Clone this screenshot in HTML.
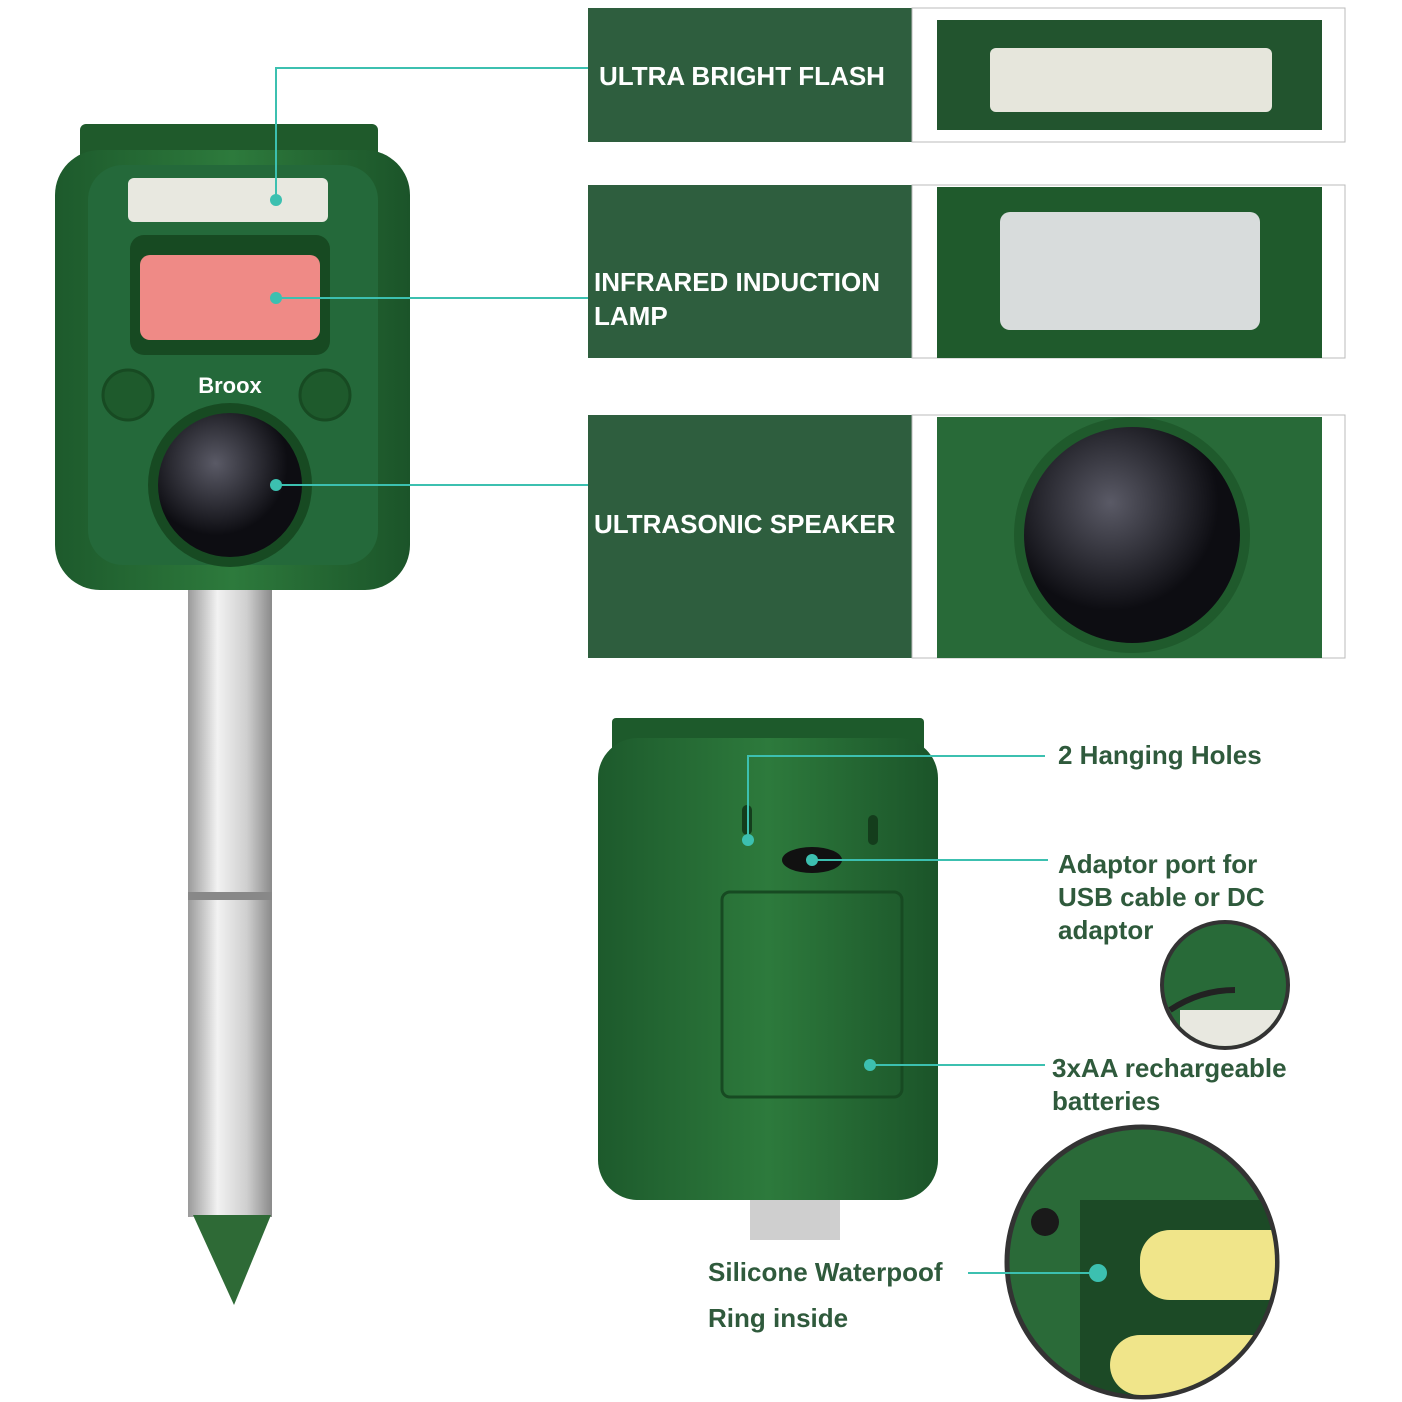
<!DOCTYPE html>
<html><head><meta charset="utf-8"><style>
body{margin:0;background:#fff;}
.wrap{position:relative;width:1402px;height:1402px;overflow:hidden;font-family:"Liberation Sans",sans-serif;}
.t{position:absolute;color:#fff;font-weight:bold;font-size:26px;letter-spacing:0;line-height:34px}
.g{position:absolute;color:#2f5a3c;font-weight:bold;font-size:26px;line-height:33px}
</style></head><body><div class="wrap">
<svg width="1402" height="1402" style="position:absolute;left:0;top:0">
<defs>
<linearGradient id="pole" x1="0" x2="1"><stop offset="0" stop-color="#9a9a9a"/><stop offset="0.35" stop-color="#f2f2f2"/><stop offset="0.7" stop-color="#cfcfcf"/><stop offset="1" stop-color="#8a8a8a"/></linearGradient>
<radialGradient id="spk" cx="0.4" cy="0.35"><stop offset="0" stop-color="#5a5a66"/><stop offset="1" stop-color="#0d0d12"/></radialGradient>
<linearGradient id="grn" x1="0" x2="1"><stop offset="0" stop-color="#1d5a2c"/><stop offset="0.5" stop-color="#2d7a3c"/><stop offset="1" stop-color="#1b5429"/></linearGradient>
<clipPath id="c1"><circle cx="1142" cy="1262" r="133"/></clipPath>
<clipPath id="c2"><circle cx="1225" cy="985" r="61"/></clipPath>
</defs>
<rect x="188" y="585" width="84" height="632" fill="url(#pole)"/>
<rect x="188" y="892" width="84" height="8" fill="#888"/>
<polygon points="193,1215 271,1215 234,1305" fill="#2e6a36"/>
<rect x="80" y="124" width="298" height="45" rx="6" fill="#1f5a2b"/>
<rect x="55" y="150" width="355" height="440" rx="45" fill="url(#grn)"/>
<rect x="88" y="165" width="290" height="400" rx="35" fill="#24693a"/>
<rect x="128" y="178" width="200" height="44" rx="6" fill="#e8e8e0"/>
<rect x="130" y="235" width="200" height="120" rx="14" fill="#174a22"/>
<rect x="140" y="255" width="180" height="85" rx="10" fill="#ef8a86"/>
<circle cx="128" cy="395" r="25" fill="#1e5a2c" stroke="#174a22" stroke-width="3"/>
<circle cx="325" cy="395" r="25" fill="#1e5a2c" stroke="#174a22" stroke-width="3"/>
<text x="230" y="393" text-anchor="middle" font-family="Liberation Sans" font-weight="bold" font-size="22" fill="#fff">Broox</text>
<circle cx="230" cy="485" r="82" fill="#174a22"/>
<circle cx="230" cy="485" r="72" fill="url(#spk)"/>
<rect x="588" y="8" width="324" height="134" fill="#2e5e3e"/>
<rect x="912" y="8" width="433" height="134" fill="#fff" stroke="#bbb"/>
<rect x="937" y="20" width="385" height="110" fill="#22542e"/>
<rect x="990" y="48" width="282" height="64" rx="6" fill="#e6e6dc"/>
<rect x="588" y="185" width="324" height="173" fill="#2e5e3e"/>
<rect x="912" y="185" width="433" height="173" fill="#fff" stroke="#bbb"/>
<rect x="937" y="187" width="385" height="171" fill="#1f5a2c"/>
<rect x="1000" y="212" width="260" height="118" rx="10" fill="#d8dcdc"/>
<rect x="588" y="415" width="324" height="243" fill="#2e5e3e"/>
<rect x="912" y="415" width="433" height="243" fill="#fff" stroke="#bbb"/>
<rect x="937" y="417" width="385" height="241" fill="#286a38"/>
<circle cx="1132" cy="535" r="118" fill="#1f5a2c"/>
<circle cx="1132" cy="535" r="108" fill="url(#spk)"/>
<rect x="750" y="1150" width="90" height="90" fill="#cfcfcf"/>
<rect x="612" y="718" width="312" height="40" rx="4" fill="#1d5a2b"/>
<rect x="598" y="738" width="340" height="462" rx="40" fill="url(#grn)"/>
<rect x="722" y="892" width="180" height="205" rx="8" fill="none" stroke="#174a22" stroke-width="3"/>
<ellipse cx="812" cy="860" rx="30" ry="13" fill="#111"/>
<rect x="742" y="805" width="10" height="30" rx="5" fill="#143d1c"/>
<rect x="868" y="815" width="10" height="30" rx="5" fill="#143d1c"/>
<circle cx="1225" cy="985" r="63" fill="#286a38" stroke="#333" stroke-width="4"/>
<g clip-path="url(#c2)"><rect x="1180" y="1010" width="100" height="40" fill="#e8e8e0"/><path d="M1170,1010 Q1200,990 1235,990" stroke="#222" stroke-width="6" fill="none"/></g>
<circle cx="1142" cy="1262" r="135" fill="#2a6a38" stroke="#333" stroke-width="5"/>
<g clip-path="url(#c1)">
<rect x="1080" y="1200" width="200" height="200" fill="#1c4a26"/>
<rect x="1140" y="1230" width="160" height="70" rx="30" fill="#f0e58a"/>
<rect x="1110" y="1335" width="170" height="60" rx="30" fill="#f0e58a"/>
</g>
<circle cx="1045" cy="1222" r="14" fill="#1a1a1a"/>
<g stroke="#3cc0b0" stroke-width="2" fill="none">
<polyline points="276,200 276,68 588,68"/>
<line x1="276" y1="298" x2="588" y2="298"/>
<line x1="276" y1="485" x2="588" y2="485"/>
<polyline points="748,840 748,756 1045,756"/>
<line x1="812" y1="860" x2="1048" y2="860"/>
<line x1="870" y1="1065" x2="1045" y2="1065"/>
<line x1="968" y1="1273" x2="1098" y2="1273"/>
</g>
<g fill="#3cc0b0">
<circle cx="276" cy="200" r="6"/><circle cx="276" cy="298" r="6"/><circle cx="276" cy="485" r="6"/>
<circle cx="748" cy="840" r="6"/><circle cx="812" cy="860" r="6"/><circle cx="870" cy="1065" r="6"/><circle cx="1098" cy="1273" r="9"/>
</g>
</svg>
<div class="t" style="left:599px;top:59px">ULTRA BRIGHT FLASH</div>
<div class="t" style="left:594px;top:265px">INFRARED INDUCTION<br>LAMP</div>
<div class="t" style="left:594px;top:507px">ULTRASONIC SPEAKER</div>
<div class="g" style="left:1058px;top:739px">2 Hanging Holes</div>
<div class="g" style="left:1058px;top:848px">Adaptor port for<br>USB cable or DC<br>adaptor</div>
<div class="g" style="left:1052px;top:1052px">3xAA rechargeable<br>batteries</div>
<div class="g" style="left:708px;top:1256px">Silicone Waterpoof</div>
<div class="g" style="left:708px;top:1302px">Ring inside</div>
</div></body></html>
